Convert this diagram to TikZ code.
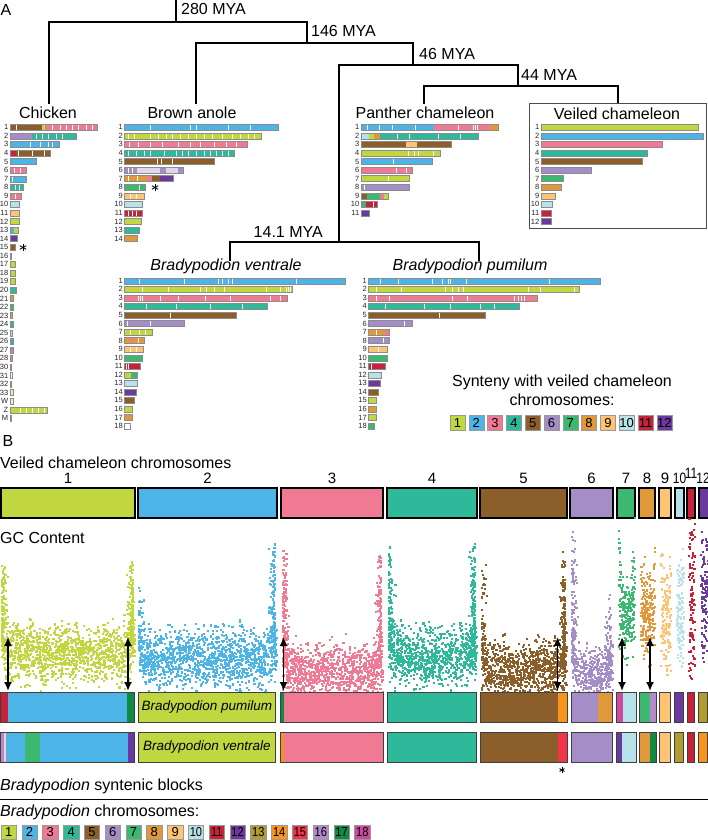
\documentclass[tikz,border=0pt]{standalone}
\usepackage{fontspec}
\setmainfont{Liberation Sans}
\usetikzlibrary{arrows.meta}
\definecolor{c1}{RGB}{193,215,64}
\definecolor{c2}{RGB}{76,180,231}
\definecolor{c3}{RGB}{240,122,147}
\definecolor{c4}{RGB}{46,185,154}
\definecolor{c5}{RGB}{140,94,42}
\definecolor{c6}{RGB}{165,141,200}
\definecolor{c7}{RGB}{61,184,112}
\definecolor{c8}{RGB}{224,152,58}
\definecolor{c9}{RGB}{255,196,115}
\definecolor{c10}{RGB}{184,226,234}
\definecolor{c11}{RGB}{200,34,58}
\definecolor{c12}{RGB}{106,58,158}
\definecolor{c13}{RGB}{178,155,47}
\definecolor{c14}{RGB}{247,148,29}
\definecolor{c15}{RGB}{239,53,73}
\definecolor{c16}{RGB}{180,138,203}
\definecolor{c17}{RGB}{15,138,68}
\definecolor{c18}{RGB}{204,74,160}
\tikzset{
  tree/.style={line width=2.3pt, line cap=rect},
  lbl/.style={font=\fontsize{16}{18}\selectfont, inner sep=0pt},
  num/.style={font=\fontsize{7.5}{8}\selectfont, inner sep=0pt, anchor=east, text=black!85},
  barline/.style={draw=black!45, line width=0.35pt},
  vbar/.style={draw=black, line width=1.1pt},
  bbarline/.style={draw=black!75, line width=0.9pt},
  dar/.style={line width=1.7pt, {Latex[length=9pt,width=8pt]}-{Latex[length=9pt,width=8pt]}},
}
\newcommand\crow[6]{%
  \node[num] at (#1-1.6,#2) {#3};
  \foreach \p/\q/\cc in {#5} {\fill[\cc] (\p,#2-3) rectangle (\q,#2+3);}
  \foreach \s in {#6} {\fill[white] (\s,#2-3) rectangle (\s+1.2,#2+3);}
  \draw[barline] (#1,#2-3) rectangle (#4,#2+3);}
\newcommand\crw[6]{\crow{#1}{#2}{#3}{#4}{#1/#4/#5}{#6}}
\newcommand\astx[3]{\foreach \ang in {90,30,150}{\draw[line width=0.9pt] (#1,#2) ++(\ang:#3) -- ++(\ang+180:2*#3);}}
\begin{document}
\begin{tikzpicture}[x=1pt,y=-1pt]
\useasboundingbox (0,0) rectangle (708,840);
% ---------------- Part A : tree
\node[lbl] (lA) at (6,10) {A};
\draw[tree] (176,0) -- (176,22);
\draw[tree] (49,103) -- (49,22) -- (307,22) -- (307,43);
\draw[tree] (196,103) -- (196,43) -- (413,43) -- (413,65);
\draw[tree] (339,242) -- (339,65) -- (518,65) -- (518,86);
\draw[tree] (424,103) -- (424,86) -- (618,86) -- (618,103);
\draw[tree] (230,260) -- (230,242) -- (479,242) -- (479,260);
\node[lbl,anchor=west] (m280) at (181,9) {280 MYA};
\node[lbl,anchor=west] (m146) at (311,31) {146 MYA};
\node[lbl,anchor=west] (m46) at (419,54) {46 MYA};
\node[lbl,anchor=west] (m44) at (521,75) {44 MYA};
\node[lbl,anchor=east] (m14) at (323,232) {14.1 MYA};
\node[lbl] (tChk) at (48,113) {Chicken};
\node[lbl] (tAno) at (192,113) {Brown anole};
\node[lbl] (tPan) at (425,113) {Panther chameleon};
\draw[black!70, line width=0.8pt] (529,103) rectangle (706,228);
\node[lbl] (tVei) at (617,114) {Veiled chameleon};
\node[lbl] (tVen) at (226,266) {\itshape Bradypodion ventrale};
\node[lbl] (tPum) at (470,266) {\itshape Bradypodion pumilum};
% ---------------- Chicken
\crow{10}{127.3}{1}{97}{10/42/c5,42/45/c1,45/97/c3}{16,52,60,66,72,78,86,92}
\crow{10}{135.9}{2}{76}{10/32/c6,32/76/c4}{36,42,48,56,62}
\crw{10}{144.4}{3}{59}{c2}{30,40,48,52}
\crow{10}{153.0}{4}{50}{10/16/c11,16/50/c5}{18,32,44}
\crw{10}{161.5}{5}{36}{c2}{-20}
\crw{10}{170.1}{6}{26}{c3}{14,20}
\crw{10}{178.7}{7}{26}{c2}{12}
\crw{10}{187.2}{8}{23}{c4}{15,19}
\crw{10}{195.8}{9}{21}{c3}{15}
\crw{10}{204.3}{10}{19}{c10}{-20}
\crw{10}{212.9}{11}{19}{c9}{-20}
\crw{10}{221.5}{12}{19}{c1}{-20}
\crow{10}{230.0}{13}{18}{10/14/c2,14/18/c1}{-20}
\crw{10}{238.6}{14}{17}{c12}{-20}
\crw{10}{247.1}{15}{15}{c5}{-20}
\crw{10}{255.7}{16}{11}{black!25}{-20}
\crw{10}{264.2}{17}{15}{c1}{-20}
\crw{10}{272.8}{18}{15}{c1}{-20}
\crw{10}{281.4}{19}{15}{c1}{-20}
\crw{10}{289.9}{20}{16}{c4}{-20}
\crw{10}{298.5}{21}{13}{c8}{-20}
\crw{10}{307.0}{22}{13}{c7}{-20}
\crw{10}{315.6}{23}{12}{c8}{-20}
\crw{10}{324.1}{24}{13}{c7}{-20}
\crw{10}{332.7}{25}{12}{c7!45}{-20}
\crw{10}{341.3}{26}{13}{c4}{-20}
\crw{10}{349.8}{27}{13}{c6}{-20}
\crw{10}{358.4}{28}{12}{c3}{-20}
\crw{10}{366.9}{30}{11}{black!30}{-20}
\crw{10}{375.5}{31}{12}{white}{-20}
\crw{10}{384.0}{32}{10.8}{black!30}{-20}
\crw{10}{392.6}{33}{13}{c1!40}{-20}
\crw{10}{401.2}{W}{13}{c1!30}{-20}
\crw{10}{409.7}{Z}{47}{c1}{20,26,32,38,44}
\crw{10}{418.3}{M}{10.8}{black!30}{-20}
\astx{23}{247.5}{3.6}
% ---------------- Brown anole
\crw{124.5}{127.3}{1}{278}{c2}{150,190,196,228,250}
\crw{124.5}{135.9}{2}{261}{c1}{128,134,150,158,166,172,180,188,196,204,212,222,232,240,248,254}
\crw{124.5}{144.4}{3}{247}{c3}{129,138,150,162,178,190,200,214,226,236}
\crw{124.5}{153.0}{4}{234}{c4}{128,136,144,150,164,176,182,188,196,204,210,216,222,228}
\crw{124.5}{161.5}{5}{214}{c5}{157,161,172}
\crow{124.5}{170.1}{6}{183}{124.5/137/c6,137/160/c6!35,160/166/c6,166/178/c6!35,178/183/c6}{128,132}
\crow{124.5}{178.6}{7}{173}{124.5/147/c8,147/152/c3,152/160/c5,160/173/c12}{128,137}
\crw{124.5}{187.2}{8}{145}{c7}{139}
\crw{124.5}{195.7}{9}{144}{c9}{130,136}
\crw{124.5}{204.3}{10}{142}{c10}{-20}
\crw{124.5}{212.8}{11}{142}{c11}{128,132,136}
\crw{124.5}{221.4}{12}{141}{c1}{-20}
\crw{124.5}{229.9}{13}{139}{c4}{-20}
\crw{124.5}{238.5}{14}{137}{c8}{-20}
\astx{155}{187.5}{3.6}
% ---------------- Panther chameleon
\crow{361}{127.3}{1}{498}{361/434/c2,434/490/c3,490/498/c8}{367,379,392,415,458,473,475,477}
\crow{361}{135.9}{2}{478}{361/369/c10,369/374/c1,374/380/c8,380/478/c4}{397,409,438,460}
\crow{361}{144.4}{3}{451}{361/406/c5,406/417/c9,417/451/c5}{-20}
\crw{361}{153.0}{4}{440}{c1}{408,414,418,433}
\crw{361}{161.5}{5}{432}{c2}{393}
\crw{361}{170.1}{6}{412}{c3}{396,406}
\crw{361}{178.6}{7}{409}{c1}{388}
\crw{361}{187.2}{8}{409}{c6}{364}
\crow{361}{195.7}{9}{388}{361/367/c5,367/380/c7,380/384/c3,384/388/c1}{-20}
\crow{361}{204.3}{10}{377}{361/366/c7,366/377/c11}{373}
\crw{361}{212.8}{11}{369}{c12}{-20}
% ---------------- Veiled chameleon
\crw{541}{127.3}{1}{698}{c1}{-20}
\crw{541}{135.9}{2}{703}{c2}{-20}
\crw{541}{144.4}{3}{662}{c3}{-20}
\crw{541}{153.0}{4}{647}{c4}{-20}
\crw{541}{161.5}{5}{642}{c5}{-20}
\crw{541}{170.1}{6}{591}{c6}{-20}
\crw{541}{178.6}{7}{563}{c7}{-20}
\crw{541}{187.2}{8}{561}{c8}{-20}
\crw{541}{195.7}{9}{555}{c9}{-20}
\crw{541}{204.3}{10}{552}{c10}{-20}
\crw{541}{212.8}{11}{551}{c11}{-20}
\crw{541}{221.4}{12}{551}{c12}{-20}
% ---------------- Bradypodion ventrale
\crw{124.5}{280.7}{1}{345}{c2}{139,184,218,222,228,232,296}
\crw{124.5}{289.3}{2}{292}{c1}{142,168,200,206,214,224,266,280,286,288,290}
\crw{124.5}{297.8}{3}{287}{c3}{138,140,142,160,178,205,230,270,280}
\crw{124.5}{306.4}{4}{267}{c4}{146,176,210,242}
\crw{124.5}{314.9}{5}{236}{c5}{170}
\crw{124.5}{323.5}{6}{184}{c6}{127,150}
\crw{124.5}{332.0}{7}{152}{c1}{130,139,145}
\crow{124.5}{340.6}{8}{144}{124.5/131/c8,131/134/c3,134/144/c8}{138}
\crw{124.5}{349.1}{9}{143}{c9}{130,136}
\crw{124.5}{357.7}{10}{142}{c7}{-20}
\crw{124.5}{366.2}{11}{140}{c11}{126,128}
\crow{124.5}{374.8}{12}{137}{124.5/131/c1,131/137/c7}{-20}
\crw{124.5}{383.3}{13}{137}{c10}{-20}
\crw{124.5}{391.9}{14}{136}{c12}{-20}
\crw{124.5}{400.4}{15}{134}{c5}{-20}
\crw{124.5}{409.0}{16}{132}{c1}{-20}
\crw{124.5}{417.5}{17}{132}{c8}{-20}
\crw{124.5}{426.1}{18}{130}{white}{-20}
% ---------------- Bradypodion pumilum
\crw{368.5}{280.7}{1}{600}{c2}{380,398,432,442,448,450,466,549}
\crw{368.5}{289.3}{2}{579}{c1}{376,401,445,452,458,463,528,540,574}
\crw{368.5}{297.8}{3}{537}{c3}{376,389,452,467,514,518,521,524}
\crw{368.5}{306.4}{4}{519}{c4}{385,424,450,480,494}
\crw{368.5}{314.9}{5}{485}{c5}{439}
\crw{368.5}{323.5}{6}{412}{c6}{404}
\crow{368.5}{332.0}{7}{389}{368.5/385/c8,385/389/c3}{376}
\crw{368.5}{340.6}{8}{389}{c6}{383}
\crw{368.5}{349.1}{9}{387}{c9}{378}
\crw{368.5}{357.7}{10}{387}{c7}{-20}
\crw{368.5}{366.2}{11}{385}{c11}{371}
\crw{368.5}{374.8}{12}{381}{c10}{-20}
\crw{368.5}{383.3}{13}{380}{c12}{-20}
\crw{368.5}{391.9}{14}{378}{c5}{-20}
\crw{368.5}{400.4}{15}{376}{c1}{-20}
\crw{368.5}{409.0}{16}{376}{c8}{-20}
\crw{368.5}{417.5}{17}{376}{c1}{-20}
\crw{368.5}{426.1}{18}{374}{c7}{-20}
% ---------------- legend A
\node[lbl] (lg1) at (562,382) {Synteny with veiled chameleon};
\node[lbl] (lg2) at (562,400) {chromosomes:};
\foreach \i in {1,...,12}{
  \pgfmathsetmacro\lx{450+(\i-1)*18.8}
  \fill[c\i] (\lx,415.5) rectangle (\lx+15,430.5);
  \draw[black!40, line width=0.5pt] (\lx,415.5) rectangle (\lx+15,430.5);
  \node[font=\fontsize{13}{13}\selectfont, inner sep=0pt] at (\lx+7.5,423.3) {\i};
}
% ---------------- Part B
\node[lbl] (lB) at (8,441) {B};
\node[lbl,anchor=west] (tvc) at (0,463) {Veiled chameleon chromosomes};
\foreach \xa/\xb/\cc/\lab/\ly in {1/135/c1/1/478,138/277/c2/2/478,281/383/c3/3/478,387/477/c4/4/478,480/567/c5/5/478,570/613/c6/6/478,617/635/c7/7/478,639/655/c8/8/478,659/671/c9/9/478,675/684/c10/\scalebox{0.8}[1]{10}/478,687/695/c11/\scalebox{0.8}[1]{11}/473,699/710/c12/\scalebox{0.8}[1]{12}/478}{
  \fill[\cc] (\xa,488) rectangle (\xb,518);
  \draw[vbar] (\xa,488) rectangle (\xb,518);
  \node[font=\fontsize{15}{15}\selectfont, inner sep=0pt] at ({(\xa+min(\xb,707))/2},\ly) {\lab};
}
\node[lbl,anchor=west] (tgc) at (0,538) {GC Content};
% scatter: main bands
\pgfmathsetseed{4242}
\foreach \xa/\xb/\col/\num/\ymid/\spr/\hl/\hr in {
 1/134/c1/1350/652/14/25/25,
 138/276/c2/1350/658/14/20/25,
 282/382/c3/1050/672/14/25/25,
 388/476/c4/950/656/14/25/25,
 481/566/c5/950/668/14/15/25,
 571/612/c6/420/672/12/30/20,
 618/634/c7/230/640/14/100/100,
 640/654/c8/210/638/14/90/90,
 660/670/c9/150/658/14/100/100,
 676/683/c10/115/652/13/80/80,
 688/694/c11/115/668/12/120/120,
 700/707/c12/115/638/13/90/90}{
  \foreach \k in {1,...,\num}{
    \pgfmathsetmacro\xx{\xa+rnd*(\xb-\xa)}
    \pgfmathsetmacro\yy{\ymid+\spr*(rand+rand+rand)-rnd*(\hl*exp(-min((\xx-\xa)/5,9))+\hr*exp(-min((\xb-\xx)/5,9)))}
    \fill[\col] (\xx,\yy) rectangle ++(2.1,2.1);
  }
}
% scatter: plumes at chromosome ends
\foreach \xe/\dir/\col/\num/\ytop/\ybot in {
 1/1/c1/130/560/650, 132/-1/c1/140/545/650,
 138/1/c2/60/585/650, 274/-1/c2/140/540/650,
 282/1/c3/150/545/665, 380/-1/c3/140/545/665,
 388/1/c4/130/545/650, 474/-1/c4/140/540/650,
 481/1/c5/50/560/660, 564/-1/c5/160/545/665,
 571/1/c6/110/530/665, 610/-1/c6/60/590/665}{
  \foreach \k in {1,...,\num}{
    \pgfmathsetmacro\xx{\xe+\dir*7*rnd*rnd}
    \pgfmathsetmacro\yy{\ytop+(\ybot-\ytop)*rnd^0.6}
    \fill[\col] (\xx,\yy) rectangle ++(2.1,2.1);
  }
}
% synteny bars pumilum (692-722) and ventrale (732-762)
\foreach \xa/\xb/\cc in {0/8/c11,8/127/c2,127/134.5/c17,138.6/275/c1,280/284/c17,284/383/c3,387/476/c4,480/558/c5,558/567/c14,571/598/c6,598/612/c8,616/623/c18,623/636/c10,639/650/c7,650/656/c16,659/670/c9,674/683/c12,687/694/c11,698/707/c13}{
  \fill[\cc] (\xa,692) rectangle (\xb,722);
}
\foreach \xa/\xb/\cc in {0/4/c16,4/6/c3!40,6/25/c2,25/40/c7,40/128/c2,128/134.5/c12,138.6/275/c1,280/284/c14,284/383/c3,387/476/c4,480/558/c5,558/567/c15,571/612/c6,616/622/c12,622/636/c10,639/650/c8,650/656/c17,659/670/c9,674/683/c13,687/694/c11,698/707/c14}{
  \fill[\cc] (\xa,732) rectangle (\xb,762);
}
\foreach \xa/\xb in {0.5/134.5,138.6/275,280/383,387/476,480/567,571/612,616/636,639/656,659/670,674/683,687/694,698/707}{
  \draw[bbarline] (\xa,692) rectangle (\xb,722);
  \draw[bbarline] (\xa,732) rectangle (\xb,762);
}
\node[font=\fontsize{13.5}{14}\selectfont\itshape, inner sep=0pt] (pum) at (206.8,707) {Bradypodion pumilum};
\node[font=\fontsize{13.5}{14}\selectfont\itshape, inner sep=0pt] (ven) at (206.8,747) {Bradypodion ventrale};
% double arrows
\foreach \ax [count=\ai] in {8,128,283.5,557.5,622,650}{
  \coordinate (at\ai) at (\ax,637);
  \coordinate (ab\ai) at (\ax,691);
  \draw[dar] (at\ai) -- (ab\ai);
}
\astx{562}{770}{2.8}
\node[lbl,anchor=west] (tsb) at (0,786) {\itshape Bradypodion\upshape{} syntenic blocks};
\draw[line width=1pt] (0,799) -- (708,799);
\node[lbl,anchor=west] (tbc) at (0,812) {\itshape Bradypodion\upshape{} chromosomes:};
\foreach \i in {1,...,18}{
  \pgfmathsetmacro\lx{1+(\i-1)*20.8}
  \fill[c\i] (\lx,825.5) rectangle (\lx+15.5,839);
  \draw[black!40, line width=0.5pt] (\lx,825.5) rectangle (\lx+15.5,839);
  \node[font=\fontsize{13}{13}\selectfont, inner sep=0pt] at (\lx+7.75,832.3) {\ifnum\i>9 \scalebox{0.85}[1]{\i}\else\i\fi};
}
\end{tikzpicture}
\end{document}
